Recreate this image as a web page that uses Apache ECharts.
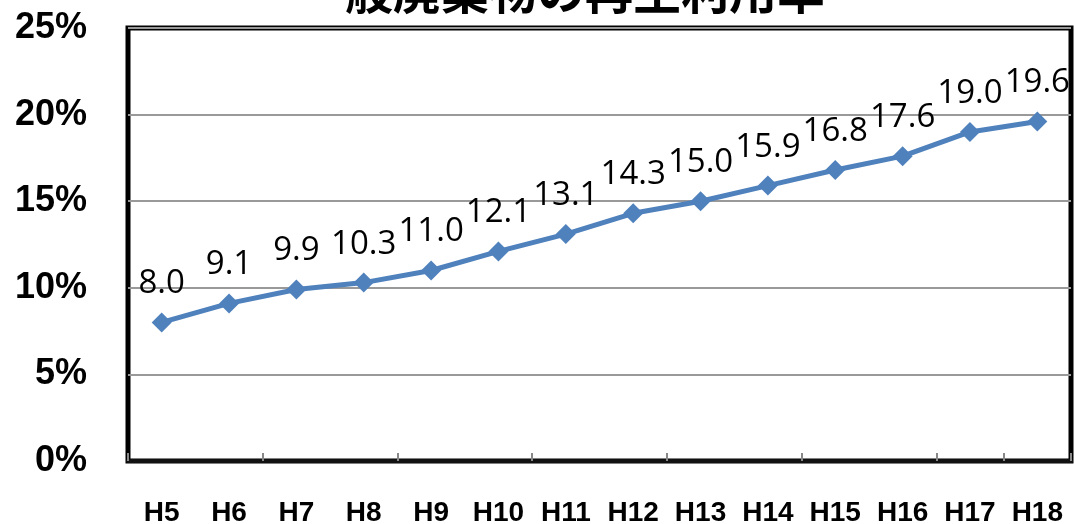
<!DOCTYPE html>
<html><head><meta charset="utf-8">
<script src="https://cdn.jsdelivr.net/npm/echarts@6/dist/echarts.min.js"></script>
<style>html,body{margin:0;padding:0;background:#fff}#c{width:1074px;height:524px}</style>
</head><body><div id="c"></div>
<script>
const titleText = '一般廃棄物の再生利用率';
const categories = ['H5','H6','H7','H8','H9','H10','H11','H12','H13','H14','H15','H16','H17','H18'];
const recycleRate = [8.0, 9.1, 9.9, 10.3, 11.0, 12.1, 13.1, 14.3, 15.0, 15.9, 16.8, 17.6, 19.0, 19.6];
const yTicks = [0, 5, 10, 15, 20, 25];

const chart = echarts.init(document.getElementById('c'));
chart.setOption({
  backgroundColor: '#fff',
  animation: false,
  title: {
    text: titleText, left: 292, top: -38,
    textStyle: { fontFamily: 'Noto Sans CJK JP', fontWeight: 'bold', fontSize: 48, color: '#000' }
  },
  grid: { left: 128, right: 3, top: 28, bottom: 63, containLabel: false, outerBoundsMode: 'none', show: true, borderColor: '#000', borderWidth: 5, backgroundColor: 'transparent' },
  xAxis: {
    type: 'category', data: categories, boundaryGap: true,
    axisLine: { show: true, lineStyle: { color: '#111', width: 4 } },
    axisTick: { show: true, inside: true, interval: 1, length: 8, lineStyle: { color: '#888', width: 2 } },
    axisLabel: { margin: 38, fontFamily: 'Liberation Sans', fontWeight: 'bold', fontSize: 28, color: '#000', interval: 0 }
  },
  yAxis: {
    type: 'value', min: yTicks[0], max: yTicks[yTicks.length - 1], interval: 5,
    axisLine: { show: false }, axisTick: { show: false },
    splitLine: { lineStyle: { color: '#999', width: 2 } },
    axisLabel: { formatter: '{value}%', margin: 41, fontFamily: 'Liberation Sans', fontWeight: 'bold', fontSize: 36, color: '#000' }
  },
  series: [{
    type: 'line', data: recycleRate,
    lineStyle: { color: '#4F81BD', width: 5 },
    itemStyle: { color: '#4F81BD' },
    symbol: 'diamond', symbolSize: 20,
    label: {
      show: true, position: 'top', distance: 12,
      formatter: p => p.value.toFixed(1),
      fontFamily: 'Open Sans', fontSize: 33, color: '#000'
    }
  }]
});
</script></body></html>
